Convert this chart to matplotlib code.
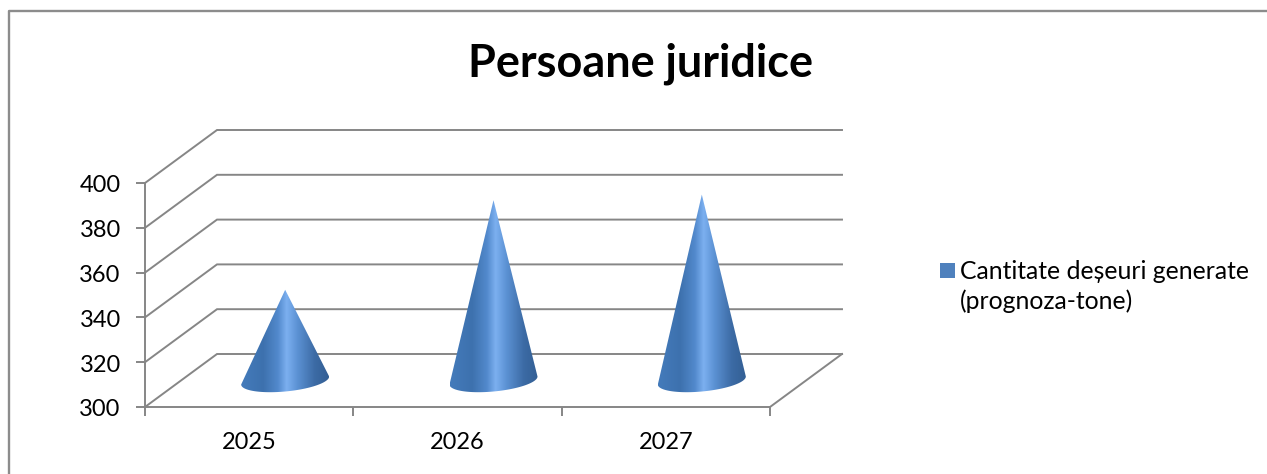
import numpy as np
import matplotlib
matplotlib.use('Agg')
import matplotlib.pyplot as plt
from matplotlib.colors import LinearSegmentedColormap
from matplotlib.lines import Line2D
from matplotlib.patches import Polygon, Rectangle
from matplotlib.transforms import ScaledTranslation

# === DATI ===
years = ['2025', '2026', '2027']
values = [340.5, 380.5, 383]
y_ticks = [300, 320, 340, 360, 380, 400]
series_name = 'Cantitate deșeuri generate\n(prognoza-tone)'
title = 'Persoane juridice'

W, H = 1267, 474
plt.rcParams['font.family'] = ['Lato', 'DejaVu Sans']
line_col = '#868686'
lw = 1.4

fig = plt.figure(figsize=(W / 100, H / 100), dpi=100)
ax = fig.add_axes([145 / W, (H - 407) / H, 625 / W, 224 / H])
ax.patch.set_alpha(0)

# profondita' del "3D" in unita' dei dati
px_x = 625 / len(years)
px_y = 224 / (y_ticks[-1] - y_ticks[0])
dx = 72 / px_x
dy = 53 / px_y
x_end = len(years)
y0 = y_ticks[0]

# griglia: parete laterale e parete di fondo
for v in y_ticks:
    ax.plot([0, dx, x_end + dx], [v, v + dy, v + dy], color=line_col, lw=lw,
            clip_on=False, zorder=1, solid_joinstyle='miter')
# bordo destro del pavimento
ax.plot([x_end, x_end + dx], [y0, y0 + dy], color=line_col, lw=lw, clip_on=False, zorder=1)

# coni con gradiente orizzontale
cmap = LinearSegmentedColormap.from_list('cone', [
    (0.00, '#447bbb'), (0.25, '#3d71ae'), (0.42, '#5289cc'), (0.52, '#7cb0f0'),
    (0.64, '#5c92d4'), (0.84, '#3c6ba5'), (1.00, '#335f94')])
gradient = np.linspace(0, 1, 256).reshape(1, -1)
a = 44 / px_x      # semiasse orizzontale
b = 11 / px_y      # semiasse verticale
t = np.linspace(np.pi, 2 * np.pi, 80)
for i, val in enumerate(values):
    cx = i + 0.5 + dx / 2
    cy = y0 + dy / 2
    tip = val + dy / 2
    ex = cx + a * np.cos(t)
    ey = cy + b * np.sin(t) + (4 / px_y) * np.cos(t)
    pts = np.column_stack([np.r_[ex, cx], np.r_[ey, tip]])
    im = ax.imshow(gradient, extent=[cx - a, cx + a, cy - 3 * b, tip], aspect='auto', cmap=cmap,
                   vmin=0, vmax=1, zorder=3, clip_on=True, interpolation='bilinear')
    im.set_clip_path(Polygon(pts, closed=True, transform=ax.transData))

ax.set_xlim(0, x_end)
ax.set_ylim(y_ticks[0], y_ticks[-1])

for s in ['top', 'right']:
    ax.spines[s].set_visible(False)
for s in ['left', 'bottom']:
    ax.spines[s].set_color(line_col)
    ax.spines[s].set_linewidth(lw)

ax.set_yticks(y_ticks)
ax.set_xticks(range(len(years) + 1))
ax.set_xticklabels([])
ax.set_xticks([i + 0.5 for i in range(len(years))], minor=True)
ax.set_xticklabels(years, minor=True)
ax.tick_params(axis='x', which='major', length=6.5, width=lw, color=line_col)
ax.tick_params(axis='x', which='minor', length=0, pad=18, labelsize=17)
ax.tick_params(axis='y', length=6.5, width=lw, color=line_col, pad=11, labelsize=17)

# etichette y un pixel piu' in basso
shift = ScaledTranslation(0, -1 / 100, fig.dpi_scale_trans)
for lab in ax.get_yticklabels():
    lab.set_transform(lab.get_transform() + shift)

fig.text(641 / W, 1 - 64 / H, title, ha='center', va='center', fontsize=32.4, fontweight='bold')

# legenda (testo) con il quadratino allineato alla prima riga
fig.text(960 / W, 1 - 260 / H, series_name, ha='left', va='top', fontsize=17.8, linespacing=1.33)
fig.add_artist(Rectangle((940 / W, 1 - 278 / H), 15 / W, 15 / H, facecolor='#4f81bd', edgecolor='none',
                         transform=fig.transFigure))

# cornice: solo lato superiore e sinistro
fig.add_artist(Line2D([8.5 / W, 8.5 / W, 1], [0, 1 - 10.5 / H, 1 - 10.5 / H], color='#8c8c8c', lw=1.7,
                      transform=fig.transFigure))

fig.savefig('out.png', dpi=100)
